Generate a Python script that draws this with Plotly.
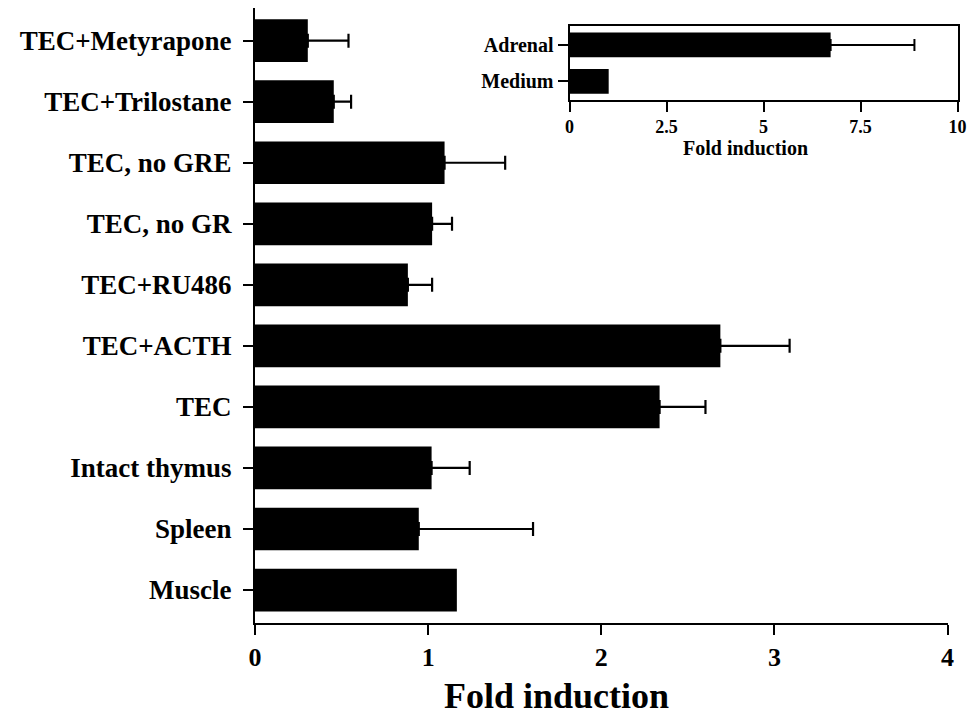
import plotly.graph_objects as go

# ---- main panel data (top to bottom) ----
categories = ["TEC+Metyrapone", "TEC+Trilostane", "TEC, no GRE", "TEC, no GR",
              "TEC+RU486", "TEC+ACTH", "TEC", "Intact thymus", "Spleen", "Muscle"]
fold_values = [0.305, 0.455, 1.095, 1.023, 0.883, 2.688, 2.337, 1.02, 0.946, 1.166]
fold_errors = [0.235, 0.10, 0.35, 0.115, 0.14, 0.40, 0.265, 0.22, 0.66, None]
main_ticks = [0, 1, 2, 3, 4]

# ---- inset data ----
inset_categories = ["Adrenal", "Medium"]
inset_values = [6.73, 1.01]
inset_errors = [2.16, None]
inset_ticks = [0, 2.5, 5, 7.5, 10]
inset_ticklabels = ["0", "2.5", "5", "7.5", "10"]

FONT = "Liberation Serif"
W, H = 968, 718

fig = go.Figure()

fig.add_trace(go.Bar(
    x=fold_values, y=categories, orientation="h",
    marker=dict(color="black", line=dict(width=0)),
    width=0.7, xaxis="x", yaxis="y", showlegend=False, hoverinfo="x+y"))

ec = [c for c, e in zip(categories, fold_errors) if e is not None]
ev = [v for v, e in zip(fold_values, fold_errors) if e is not None]
ee = [e for e in fold_errors if e is not None]
fig.add_trace(go.Scatter(
    x=ev, y=ec, mode="markers", marker=dict(size=0.1, color="black", opacity=0),
    error_x=dict(type="data", symmetric=False, array=ee, arrayminus=[0] * len(ee),
                 color="black", thickness=2.2, width=7),
    xaxis="x", yaxis="y", showlegend=False, hoverinfo="skip"))

fig.add_trace(go.Bar(
    x=inset_values, y=inset_categories, orientation="h",
    marker=dict(color="black", line=dict(width=0)),
    width=0.68, xaxis="x2", yaxis="y2", showlegend=False, hoverinfo="x+y"))

ic = [c for c, e in zip(inset_categories, inset_errors) if e is not None]
iv = [v for v, e in zip(inset_values, inset_errors) if e is not None]
ie = [e for e in inset_errors if e is not None]
fig.add_trace(go.Scatter(
    x=iv, y=ic, mode="markers", marker=dict(size=0.1, color="black", opacity=0),
    error_x=dict(type="data", symmetric=False, array=ie, arrayminus=[0] * len(ie),
                 color="black", thickness=2, width=6),
    xaxis="x2", yaxis="y2", showlegend=False, hoverinfo="skip"))

fig.update_layout(
    width=W, height=H,
    margin=dict(l=0, r=0, t=0, b=0),
    paper_bgcolor="white", plot_bgcolor="rgba(0,0,0,0)",
    font=dict(family=FONT, color="black", weight="bold"),
    xaxis=dict(domain=[255 / W, 947.5 / W], range=[0, 4], tickvals=main_ticks,
               showgrid=False, zeroline=False, showline=True, linecolor="black",
               linewidth=2, ticks="outside", ticklen=10, tickwidth=2, tickcolor="black",
               tickfont=dict(size=26, family=FONT, weight="bold"), automargin=False,
               anchor="y"),
    yaxis=dict(domain=[(H - 622.7) / H, (H - 8) / H], range=[9.535, -0.535],
               type="category", categoryorder="array", categoryarray=categories,
               showgrid=False, zeroline=False, showline=True, linecolor="black",
               linewidth=2, ticks="outside", ticklen=10, tickwidth=2, tickcolor="black",
               tickfont=dict(size=27, family=FONT, weight="bold"), automargin=False,
               ticklabelstandoff=6, anchor="x"),
    xaxis2=dict(domain=[569.5 / W, 957.5 / W], range=[0, 10], tickvals=inset_ticks,
                ticktext=inset_ticklabels,
                showgrid=False, zeroline=False, showline=True, mirror=True,
                linecolor="black", linewidth=2, ticks="outside", ticklen=10,
                tickwidth=2, tickcolor="black",
                tickfont=dict(size=18, family=FONT, weight="bold"), automargin=False,
                ticklabelstandoff=-1, anchor="y2"),
    yaxis2=dict(domain=[(H - 100) / H, (H - 26) / H], range=[1.51, -0.52],
                type="category", categoryorder="array", categoryarray=inset_categories,
                showgrid=False, zeroline=False, showline=True, mirror=True,
                linecolor="black", linewidth=2, ticks="outside", ticklen=10,
                tickwidth=2, tickcolor="black",
                tickfont=dict(size=20, family=FONT, weight="bold"), automargin=False,
                anchor="x2"),
    annotations=[
        dict(text="Fold induction", x=556 / W, y=(H - 696) / H, xref="paper",
             yref="paper", xanchor="center", yanchor="middle", showarrow=False,
             font=dict(size=36, family=FONT, weight="bold", color="black")),
        dict(text="Fold induction", x=745 / W, y=(H - 148) / H, xref="paper",
             yref="paper", xanchor="center", yanchor="middle", showarrow=False,
             font=dict(size=20, family=FONT, weight="bold", color="black")),
    ],
)

fig.write_html("out.html", config={"displayModeBar": False},
               post_script="document.body.style.margin='0px';document.body.style.padding='0px';")
